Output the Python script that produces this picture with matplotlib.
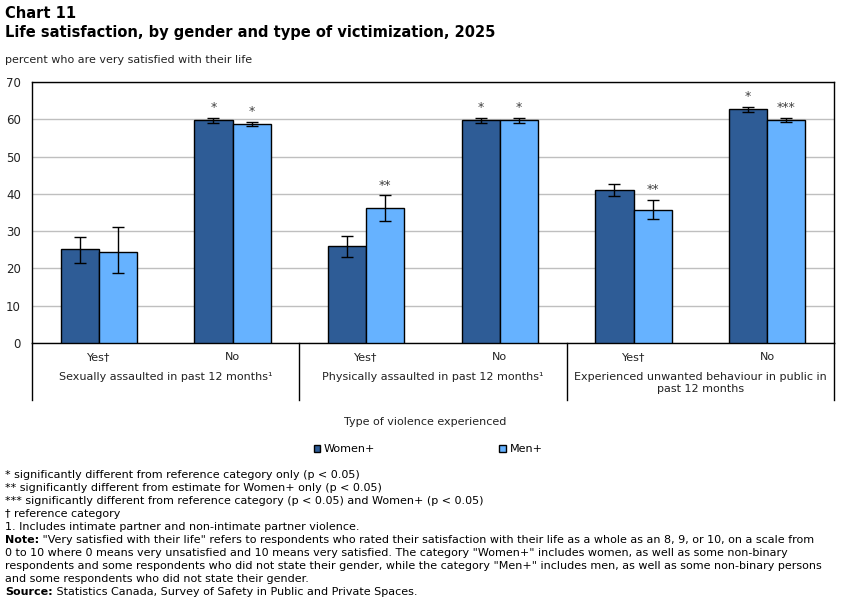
import numpy as np
import matplotlib.pyplot as plt
from matplotlib.transforms import blended_transform_factory

# data
sub_labels = ['Yes\u2020', 'No', 'Yes\u2020', 'No', 'Yes\u2020', 'No']
group_labels = ['Sexually assaulted in past 12 months\u00b9',
                'Physically assaulted in past 12 months\u00b9',
                'Experienced unwanted behaviour in public in\npast 12 months']
women = [25.3, 59.7, 26.1, 59.8, 41.1, 62.7]
women_lo = [21.5, 59.0, 23.0, 59.1, 39.4, 62.0]
women_hi = [28.5, 60.3, 28.7, 60.4, 42.6, 63.3]
men = [24.5, 58.7, 36.2, 59.7, 35.7, 59.8]
men_lo = [18.7, 58.1, 32.8, 58.9, 33.2, 59.2]
men_hi = [31.2, 59.4, 39.6, 60.3, 38.3, 60.4]
women_sig = ['', '*', '', '*', '', '*']
men_sig = ['', '*', '**', '*', '**', '***']

c_women = '#2E5C96'
c_men = '#66B2FF'
txt = '#222222'

W, H = 851, 599
fig = plt.figure(figsize=(W / 100, H / 100), dpi=100)
ax = fig.add_axes([32 / W, (H - 343) / H, 802 / W, 261 / H])

x = np.arange(len(sub_labels))
bw = 0.285
ax.bar(x - bw / 2, women, bw, color=c_women, edgecolor='black', linewidth=1, zorder=3, label='Women+')
ax.bar(x + bw / 2, men, bw, color=c_men, edgecolor='black', linewidth=1, zorder=3, label='Men+')

w_err = [np.array(women) - np.array(women_lo), np.array(women_hi) - np.array(women)]
m_err = [np.array(men) - np.array(men_lo), np.array(men_hi) - np.array(men)]
ax.errorbar(x - bw / 2, women, yerr=w_err, fmt='none', ecolor='black', elinewidth=1, capsize=4, capthick=1, zorder=4)
ax.errorbar(x + bw / 2, men, yerr=m_err, fmt='none', ecolor='black', elinewidth=1, capsize=4, capthick=1, zorder=4)

for i in range(len(x)):
    if women_sig[i]:
        ax.text(x[i] - bw / 2, women_hi[i] + 1.0, women_sig[i], ha='center', va='bottom', fontsize=9, color='#404040')
    if men_sig[i]:
        ax.text(x[i] + bw / 2, men_hi[i] + 1.0, men_sig[i], ha='center', va='bottom', fontsize=9, color='#404040')

ax.set_xlim(-0.5, len(x) - 0.5)
ax.set_ylim(0, 70)
ax.set_yticks(range(0, 71, 10))
ax.yaxis.grid(True, color='#BFBFBF', linewidth=1, zorder=0)
ax.set_axisbelow(True)
ax.tick_params(axis='y', length=0, labelsize=8.5, pad=8, labelcolor=txt)
ax.set_xticks([])
for s in ax.spines.values():
    s.set_color('black')
    s.set_linewidth(1)

tr = blended_transform_factory(ax.transData, ax.transAxes)
for i, lab in enumerate(sub_labels):
    ax.text(x[i], -0.055, lab, transform=tr, ha='center', va='center', fontsize=8, color=txt)
for g, lab in enumerate(group_labels):
    ax.text(2 * g + 0.5, -0.113, lab, transform=tr, ha='center', va='top', fontsize=8,
            color=txt, linespacing=1.25)
for xb in [-0.5, 1.5, 3.5, 5.5]:
    ax.plot([xb, xb], [0, -0.218], transform=tr, color='black', linewidth=1, clip_on=False)

fig.text(425 / W, 1 - 422 / H, 'Type of violence experienced', ha='center', va='center', fontsize=8, color=txt)

leg = fig.legend(loc='center', bbox_to_anchor=(428 / W, 1 - 449 / H), ncol=2, frameon=False,
                 fontsize=8, handlelength=0.6, handleheight=0.6, columnspacing=11.2, handletextpad=0.3)

fig.text(5 / W, 1 - 14 / H, 'Chart 11', fontsize=10.5, fontweight='bold', va='center', ha='left')
fig.text(5 / W, 1 - 32 / H, 'Life satisfaction, by gender and type of victimization, 2025',
         fontsize=10.5, fontweight='bold', va='center', ha='left')
fig.text(5 / W, 1 - 60 / H, 'percent who are very satisfied with their life', fontsize=8, va='center', ha='left',
         color=txt)

notes = [
    '* significantly different from reference category only (p < 0.05)',
    '** significantly different from estimate for Women+ only (p < 0.05)',
    '*** significantly different from reference category (p < 0.05) and Women+ (p < 0.05)',
    '\u2020 reference category',
    '1. Includes intimate partner and non-intimate partner violence.',
]
y0 = 475
lh = 13.0
fs_note = 8
for k, t in enumerate(notes):
    fig.text(5 / W, 1 - (y0 + k * lh) / H, t, fontsize=fs_note, va='center', ha='left')
note_lines = [
    ('Note:', ' "Very satisfied with their life" refers to respondents who rated their satisfaction with their life as a whole as an 8, 9, or 10, on a scale from'),
    ('', '0 to 10 where 0 means very unsatisfied and 10 means very satisfied. The category "Women+" includes women, as well as some non-binary'),
    ('', 'respondents and some respondents who did not state their gender, while the category "Men+" includes men, as well as some non-binary persons'),
    ('', 'and some respondents who did not state their gender.'),
    ('Source:', ' Statistics Canada, Survey of Safety in Public and Private Spaces.'),
]
for k, (b, t) in enumerate(note_lines):
    yy = 1 - (y0 + (5 + k) * lh) / H
    xx = 5 / W
    if b:
        bt = fig.text(xx, yy, b, fontsize=fs_note, va='center', ha='left', fontweight='bold')
        fig.canvas.draw()
        bb = bt.get_window_extent()
        xx = bb.x1 / W
    fig.text(xx, yy, t, fontsize=fs_note, va='center', ha='left')

fig.savefig('out.png', dpi=100)
